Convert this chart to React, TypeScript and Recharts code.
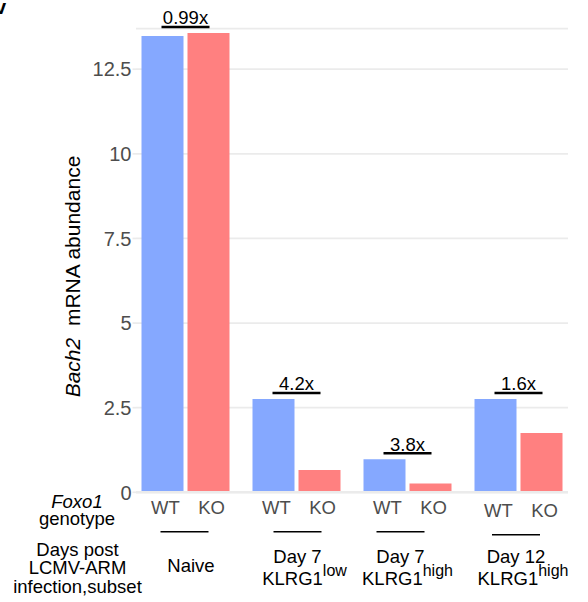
import { Bar, BarChart, CartesianGrid, LabelList, XAxis, YAxis } from "recharts";

// Bach2 expression by Foxo1 genotype, one group per infection timepoint / subset
const SUBSET_DAY = ["Naive", "Day 7", "Day 7", "Day 12"];
const SUBSET_KLRG1 = ["", "low", "high", "high"];
const WT_VALUES = [13.48, 2.76, 0.98, 2.76];
const KO_VALUES = [13.57, 0.66, 0.26, 1.75];
const Y_TICKS = [0, 2.5, 5, 7.5, 10, 12.5];
const GENOTYPES = ["WT", "KO"];

const BLUE = "#85a8ff";
const RED = "#ff8080";
const GRID = "#ebebeb";
const TICK_TEXT = "#4d4d4d";
const FONT = '"Liberation Sans", Arial, Helvetica, sans-serif';

// small hand nudges for the rule + subset label under each group
const GROUP_SHIFT = [-0.5, 1.5, -6.5, -2];

const data = SUBSET_DAY.map((day, i) => ({
  group: SUBSET_KLRG1[i] ? `${day} KLRG1${SUBSET_KLRG1[i]}` : day,
  wt: WT_VALUES[i],
  ko: KO_VALUES[i],
}));

function ValueTick({ x, y, payload }: any) {
  const px = Number(x);
  const py = Number(y);
  return (
    <g>
      <line x1={px + 3} x2={px + 6.5} y1={py} y2={py} stroke={GRID} strokeWidth={1.7} />
      <text x={px + 2} y={py + 7.2} textAnchor="end" fontSize={20} fill={TICK_TEXT}>
        {String(payload.value)}
      </text>
    </g>
  );
}

function GroupTick({ x, y, payload }: any) {
  const i = payload.index;
  const cx = Number(x);
  const y0 = Number(y);
  const shift = GROUP_SHIFT[i];
  const drop = i === 3 ? 3 : 0;
  return (
    <g>
      {GENOTYPES.map((g, k) => (
        <text
          key={g}
          x={cx + (k === 0 ? -23 : 23) + 3.5}
          y={y0 + 21.7 + drop}
          textAnchor="middle"
          fontSize={18.5}
          fill={TICK_TEXT}
        >
          {g}
        </text>
      ))}
      <line
        x1={cx + shift - 24}
        x2={cx + shift + 24}
        y1={y0 + 39.4 + drop}
        y2={y0 + 39.4 + drop}
        stroke="#000"
        strokeWidth={1.6}
      />
      {SUBSET_KLRG1[i] ? (
        <>
          <text x={cx + shift} y={y0 + 70.3} textAnchor="middle" fontSize={18.5} fill="#000">
            {SUBSET_DAY[i]}
          </text>
          <text x={cx + shift + 7} y={y0 + 92.2} textAnchor="middle" fontSize={18.5} fill="#000">
            KLRG1
            <tspan dy={-8.5} fontSize={16}>
              {SUBSET_KLRG1[i]}
            </tspan>
          </text>
        </>
      ) : (
        <text x={cx + 6} y={y0 + 79.4} textAnchor="middle" fontSize={18.5} fill="#000">
          {SUBSET_DAY[i]}
        </text>
      )}
    </g>
  );
}

// fold change (WT / KO) with an underline, sitting above the taller bar of the pair
function FoldLabel(props: any) {
  const box = props.viewBox ?? {};
  const x = Number(props.x ?? box.x);
  const y = Number(props.y ?? box.y);
  const w = Number(props.width ?? box.width);
  const h = Number(props.height ?? box.height);
  const i = props.index;
  const wt = WT_VALUES[i];
  const ko = KO_VALUES[i];
  const perUnit = h / wt;
  const top = y + h - Math.max(wt, ko) * perUnit;
  const cx = x + w + 2;
  const ruleY = top - 6;
  return (
    <g>
      <text x={cx} y={ruleY - 2.6} textAnchor="middle" fontSize={18.5} fill="#000">
        {(wt / ko).toPrecision(2)}x
      </text>
      <line x1={cx - 24} x2={cx + 24} y1={ruleY} y2={ruleY} stroke="#000" strokeWidth={2.5} />
    </g>
  );
}

function YTitle() {
  return (
    <text transform="translate(80 276.5) rotate(-90)" textAnchor="middle" fontSize={21} fill="#000">
      <tspan fontStyle="italic">Bach2</tspan>
      {"\u00a0\u00a0mRNA abundance"}
    </text>
  );
}

function RowTitles() {
  return (
    <g fontSize={18.5} fill="#000" textAnchor="middle">
      <text x={77} y={508.3} fontStyle="italic">
        Foxo1
      </text>
      <text x={77} y={525}>genotype</text>
      <text x={77.5} y={556}>Days post</text>
      <text x={77.5} y={574.3}>LCMV-ARM</text>
      <text x={77.5} y={593.3}>infection,subset</text>
    </g>
  );
}

export default function App() {
  return (
    <div style={{ position: "absolute", left: 0, top: 0, width: 588, height: 602, fontFamily: FONT, background: "#fff" }}>
      <BarChart
        width={588}
        height={602}
        data={data}
        margin={{ top: 28.6, right: 14.5, bottom: 0, left: 0 }}
        barSize={42}
        barGap={4}
      >
        <CartesianGrid vertical={false} x={136} width={432} stroke={GRID} strokeWidth={1.7} />
        <XAxis
          dataKey="group"
          height={109.7}
          interval={0}
          axisLine={false}
          tickLine={false}
          tickSize={0}
          tickMargin={0}
          tick={<GroupTick />}
          label={<RowTitles />}
        />
        <YAxis
          width={129.5}
          domain={[0, 13.7]}
          ticks={Y_TICKS}
          interval={0}
          axisLine={false}
          tickLine={false}
          tickSize={0}
          tickMargin={0}
          tick={<ValueTick />}
          label={<YTitle />}
        />
        <Bar dataKey="wt" fill={BLUE} isAnimationActive={false}>
          <LabelList content={<FoldLabel />} />
        </Bar>
        <Bar dataKey="ko" fill={RED} isAnimationActive={false} />
      </BarChart>
      <svg
        width={588}
        height={602}
        style={{ position: "absolute", left: 0, top: 0, pointerEvents: "none" }}
      >
        <line x1={136} x2={568} y1={492.3} y2={492.3} stroke={GRID} strokeWidth={2.6} />
        {/* panel tag, mostly cut off at the left edge */}
        <text x={-5} y={14} fontSize={20} fontWeight="bold" fill="#000">
          v
        </text>
      </svg>
    </div>
  );
}
